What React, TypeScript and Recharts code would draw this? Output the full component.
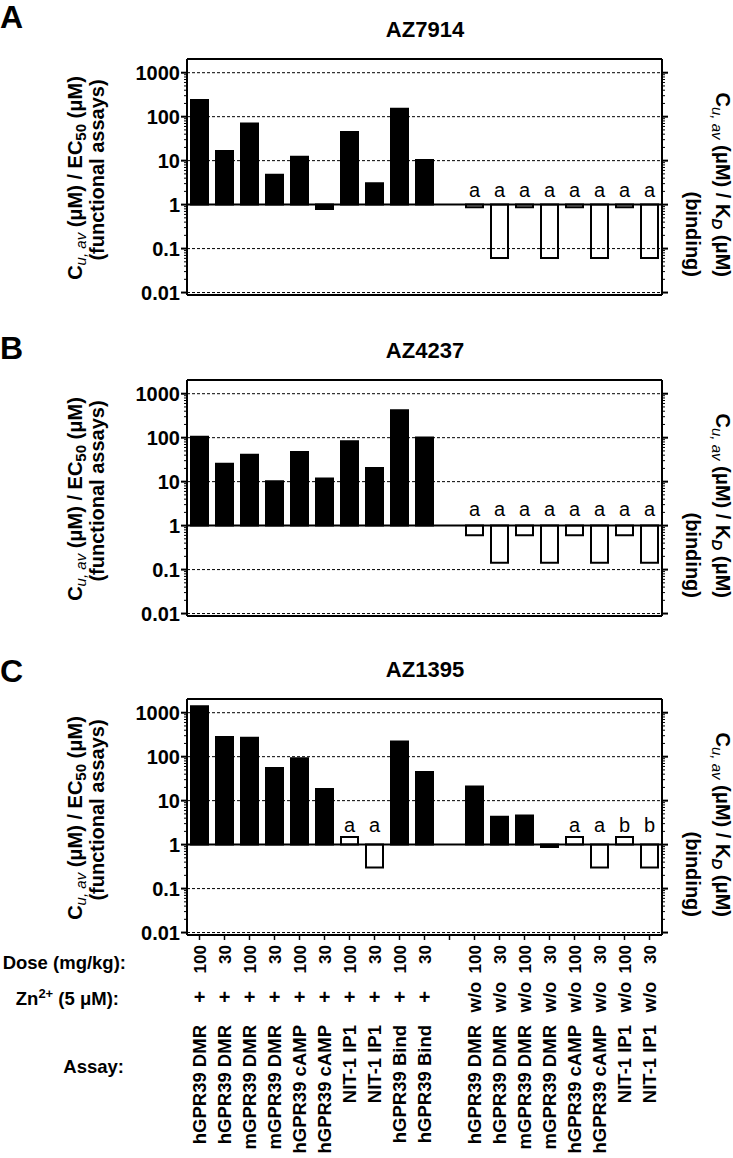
import React from "react";
import { BarChart, Bar, XAxis, YAxis, Cell, ReferenceLine, LabelList } from "recharts";

// 19 x slots, slot 10 is the empty gap between the "+" and "w/o" groups
const assays = ["hGPR39 DMR", "hGPR39 DMR", "mGPR39 DMR", "mGPR39 DMR", "hGPR39 cAMP", "hGPR39 cAMP", "NIT-1 IP1", "NIT-1 IP1", "hGPR39 Bind", "hGPR39 Bind", "", "hGPR39 DMR", "hGPR39 DMR", "mGPR39 DMR", "mGPR39 DMR", "hGPR39 cAMP", "hGPR39 cAMP", "NIT-1 IP1", "NIT-1 IP1"];
const doses = ["100", "30", "100", "30", "100", "30", "100", "30", "100", "30", "", "100", "30", "100", "30", "100", "30", "100", "30"];
const zinc = ["+", "+", "+", "+", "+", "+", "+", "+", "+", "+", "", "w/o", "w/o", "w/o", "w/o", "w/o", "w/o", "w/o", "w/o"];

// Cu,av / EC50 (filled) or Cu,av / KD (open)
const az7914 = [240, 16.5, 70, 4.8, 12.3, 0.8, 45, 3.05, 152, 10.4, null, 0.87, 0.061, 0.87, 0.061, 0.87, 0.061, 0.87, 0.061];
const az4237 = [105, 25.5, 41, 10.2, 47, 11.8, 83, 20.5, 420, 101, null, 0.6, 0.143, 0.6, 0.143, 0.6, 0.143, 0.6, 0.143];
const az1395 = [1400, 280, 270, 55, 92, 18.5, 1.5, 0.3, 220, 45, null, 21, 4.3, 4.6, 0.88, 1.5, 0.3, 1.5, 0.3];

const openAB = [0, 0, 0, 0, 0, 0, 0, 0, 0, 0, 0, 1, 1, 1, 1, 1, 1, 1, 1];
const openC = [0, 0, 0, 0, 0, 0, 1, 1, 0, 0, 0, 0, 0, 0, 0, 1, 1, 1, 1];

const marksAB = ["", "", "", "", "", "", "", "", "", "", "", "a", "a", "a", "a", "a", "a", "a", "a"];
const marksC = ["", "", "", "", "", "", "a", "a", "", "", "", "", "", "", "", "a", "a", "b", "b"];

const decades = [0.01, 0.1, 1, 10, 100, 1000];

const FONT = "'Liberation Sans', Arial, sans-serif";
const Y_DOMAIN: [number, number] = [0.0088, 2050];

// major + minor log ticks
const logTicks: number[] = [];
decades.forEach((d, k) => {
  if (k === decades.length - 1) {
    logTicks.push(d);
    return;
  }
  for (let m = 1; m <= 9; m++) logTicks.push(+(m * d).toPrecision(3));
});

const isMajor = (v: number) => Math.abs(Math.log10(v) - Math.round(Math.log10(v))) < 1e-6;

function LeftTick(props: any) {
  const { x, y, payload } = props;
  const major = isMajor(payload.value);
  return (
    <g>
      <line x1={x - (major ? 6 : 3)} x2={x} y1={y} y2={y} stroke="#000" strokeWidth={major ? 2 : 1} />
      {major && (
        <text x={x - 7} y={y} dy="0.36em" textAnchor="end" fontFamily={FONT} fontWeight="bold" fontSize={20} fill="#000">
          {String(payload.value)}
        </text>
      )}
    </g>
  );
}

function RightTick(props: any) {
  const { x, y, payload } = props;
  const major = isMajor(payload.value);
  return <line x1={x} x2={x + (major ? 6 : 3)} y1={y} y2={y} stroke="#000" strokeWidth={major ? 2 : 1} />;
}

function CategoryTick(props: any) {
  const { x, y, payload } = props;
  const i = Number(payload.value);
  if (!assays[i]) return null;
  const z = zinc[i];
  return (
    <g fontFamily={FONT} fontWeight="bold" fill="#000">
      <text transform={`translate(${x},${y + 5}) rotate(-90)`} textAnchor="end" dy="0.36em" fontSize={17}>
        {doses[i]}
      </text>
      {z === "+" ? (
        <text x={x} y={y + 57} dy="0.36em" textAnchor="middle" fontSize={20}>+</text>
      ) : (
        <text transform={`translate(${x},${y + 57}) rotate(-90)`} textAnchor="middle" dy="0.36em" fontSize={18.5}>
          {z}
        </text>
      )}
      <text transform={`translate(${x},${y + 85}) rotate(-90)`} textAnchor="end" dy="0.36em" fontSize={18.5}>
        {assays[i]}
      </text>
    </g>
  );
}

const markContent = (lift: number) => (p: any) => {
  const raw = p.value;
  if (!raw) return null;
  const vb = p.viewBox ?? p;
  const x = Number(vb.x);
  const y = Number(vb.y);
  const w = Number(vb.width);
  const h = Number(vb.height);
  const top = Math.min(y, y + h);
  const bottom = Math.max(y, y + h);
  const up = raw.endsWith("^");
  const lineY = up ? bottom : top;
  return (
    <text x={x + w / 2} y={lineY - lift} textAnchor="middle" fontFamily={FONT} fontSize={20} fill="#000">
      {raw.slice(0, -1)}
    </text>
  );
};

interface PanelProps {
  values: (number | null)[];
  open: number[];
  marks: string[];
  markLift: number;
  height: number;
  withLabels?: boolean;
}

function Panel({ values, open, marks, markLift, height, withLabels }: PanelProps) {
  const rows = values.map((v, i) => ({
    key: String(i),
    range: v == null ? null : [Math.min(1, v), Math.max(1, v)],
    mark: marks[i] && v != null ? marks[i] + (v >= 1 ? "^" : "v") : "",
  }));
  const bottomHeight = height - 295;

  return (
    <BarChart width={733} height={height} data={rows} margin={{ top: 39, right: 51, bottom: 0, left: 127 }} barSize={17}>
      <XAxis
        xAxisId="top"
        orientation="top"
        dataKey="key"
        height={20}
        interval={0}
        tick={false}
        tickSize={5}
        axisLine={{ stroke: "#000", strokeWidth: 2 }}
        tickLine={{ stroke: "#000", strokeWidth: 1.5 }}
      />
      <XAxis
        xAxisId="bottom"
        orientation="bottom"
        dataKey="key"
        height={bottomHeight}
        interval={0}
        tick={withLabels ? <CategoryTick /> : false}
        tickSize={5}
        tickMargin={0}
        axisLine={{ stroke: "#000", strokeWidth: 2 }}
        tickLine={{ stroke: "#000", strokeWidth: 1.5 }}
      />
      <YAxis
        yAxisId="left"
        orientation="left"
        type="number"
        scale="log"
        domain={Y_DOMAIN}
        allowDataOverflow
        ticks={logTicks}
        interval={0}
        width={60}
        tickSize={0}
        tickMargin={0}
        tickLine={false}
        axisLine={{ stroke: "#000", strokeWidth: 2 }}
        tick={<LeftTick />}
      />
      <YAxis
        yAxisId="right"
        orientation="right"
        type="number"
        scale="log"
        domain={Y_DOMAIN}
        allowDataOverflow
        ticks={logTicks}
        interval={0}
        width={20}
        tickSize={0}
        tickMargin={0}
        tickLine={false}
        axisLine={{ stroke: "#000", strokeWidth: 2 }}
        tick={<RightTick />}
      />
      {decades
        .filter((d) => d !== 1)
        .map((d) => (
          <ReferenceLine key={d} xAxisId="bottom" yAxisId="left" y={d} stroke="#000" strokeWidth={1} strokeDasharray="3 2" />
        ))}
      <Bar dataKey="range" xAxisId="bottom" yAxisId="left" isAnimationActive={false}>
        {rows.map((r, i) => (
          <Cell key={r.key} fill={open[i] ? "#fff" : "#000"} stroke="#000" strokeWidth={2} />
        ))}
        <LabelList dataKey="mark" content={markContent(markLift)} />
      </Bar>
      <ReferenceLine xAxisId="bottom" yAxisId="left" y={1} stroke="#000" strokeWidth={2} />
    </BarChart>
  );
}

const panelInfo = [
  { letter: "A", title: "AZ7914", top: 0, letterY: 28 },
  { letter: "B", title: "AZ4237", top: 321, letterY: 359 },
  { letter: "C", title: "AZ1395", top: 640, letterY: 682 },
];

function Overlay() {
  return (
    <svg width={733} height={1158} style={{ position: "absolute", left: 0, top: 0, pointerEvents: "none" }} fontFamily={FONT} fill="#000">
      {panelInfo.map((p) => (
        <g key={p.letter} fontWeight="bold">
          <text x={0} y={p.letterY} fontSize={32}>{p.letter}</text>
          <text x={425} y={p.top + 37} textAnchor="middle" fontSize={22}>{p.title}</text>
          <text transform={`translate(82,${p.top + 178}) rotate(-90)`} textAnchor="middle" fontSize={20}>
            C<tspan fontStyle="italic" fontWeight="normal" fontSize={15} dy={4}>u, av</tspan>
            <tspan dy={-4}> (μM) / EC</tspan>
            <tspan fontSize={15} dy={4}>50</tspan>
            <tspan dy={-4}> (μM)</tspan>
          </text>
          <text transform={`translate(104,${p.top + 170}) rotate(-90)`} textAnchor="middle" fontSize={20}>
            (functional assays)
          </text>
          <text transform={`translate(716,${p.top + 277}) rotate(90)`} textAnchor="end" fontSize={20}>
            C<tspan fontStyle="italic" fontWeight="normal" fontSize={15} dy={4}>u, av</tspan>
            <tspan dy={-4}> (μM) / K</tspan>
            <tspan fontStyle="italic" fontSize={15} dy={4}>D</tspan>
            <tspan dy={-4}> (μM)</tspan>
          </text>
          <text transform={`translate(686,${p.top + 277}) rotate(90)`} textAnchor="end" fontSize={20}>
            (binding)
          </text>
        </g>
      ))}
      <g fontWeight="bold" fontSize={18.5} textAnchor="end">
        <text x={126} y={962} dy="0.36em">Dose (mg/kg):</text>
        <text x={119} y={998} dy="0.36em">
          Zn<tspan fontSize={13} dy={-7}>2+</tspan>
          <tspan dy={7}> (5 μM):</tspan>
        </text>
        <text x={124} y={1066} dy="0.36em">Assay:</text>
      </g>
    </svg>
  );
}

export default function App() {
  return (
    <div style={{ position: "absolute", left: 0, top: 0, width: 733, height: 1158, background: "#fff", overflow: "hidden" }}>
      <div style={{ position: "absolute", left: 0, top: 0 }}>
        <Panel values={az7914} open={openAB} marks={marksAB} markLift={8} height={321} />
      </div>
      <div style={{ position: "absolute", left: 0, top: 321 }}>
        <Panel values={az4237} open={openAB} marks={marksAB} markLift={10} height={321} />
      </div>
      <div style={{ position: "absolute", left: 0, top: 640 }}>
        <Panel values={az1395} open={openC} marks={marksC} markLift={13} height={518} withLabels />
      </div>
      <Overlay />
    </div>
  );
}
